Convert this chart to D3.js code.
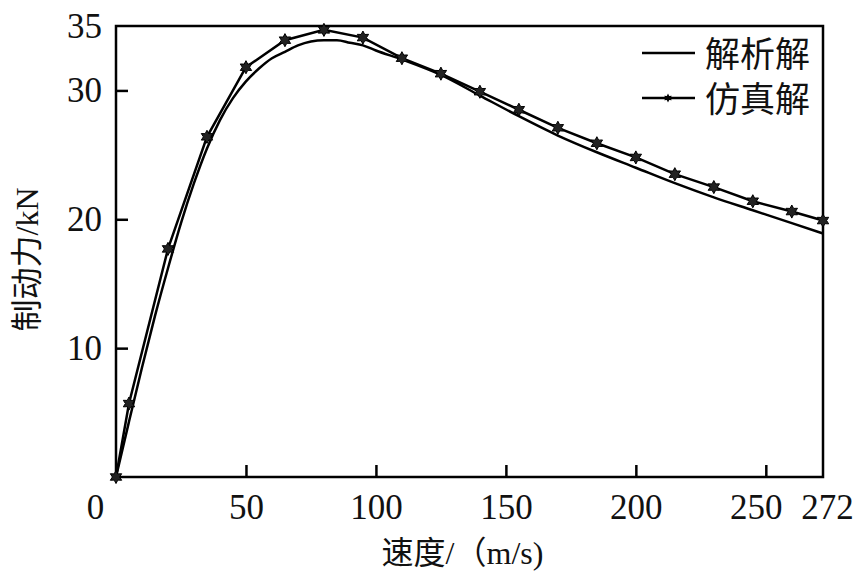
<!DOCTYPE html>
<html>
<head>
<meta charset="utf-8">
<script src="https://cdn.jsdelivr.net/npm/d3@7"></script>
<style>
    html, body { margin: 0; padding: 0; background: #fff; }
    svg { display: block; }
    .num { font-family: "Liberation Serif", "DejaVu Serif", serif; }
    .cjk { font-family: "Liberation Serif", "Noto Sans CJK SC", serif; }
</style>
</head>
<body>
<div id="chart"></div>
<script>
// speed (m/s) vs braking force (kN)
const simSpeed = [0, 5, 20, 35, 50, 65, 80, 95, 110, 125, 140, 155, 170, 185, 200, 215, 230, 245, 260, 272];
const simForce = [0, 5.7, 17.7, 26.4, 31.8, 33.9, 34.7, 34.1, 32.5, 31.3, 29.9, 28.5, 27.1, 25.9, 24.8, 23.5, 22.5, 21.4, 20.6, 19.9];

const anaSpeed = [0, 5, 10, 15, 20, 25, 30, 35, 40, 45, 50, 55, 60, 65, 70, 75, 80, 85, 90, 95, 100,
    110, 125, 140, 155, 170, 185, 200, 215, 230, 245, 260, 272];
const anaForce = [0, 4.3, 8.5, 12.5, 16.2, 19.7, 22.8, 25.5, 27.7, 29.4, 30.7, 31.7, 32.5, 33.0, 33.5, 33.8, 33.9, 33.9, 33.7, 33.5, 33.1,
    32.4, 31.2, 29.6, 28.0, 26.5, 25.2, 24.0, 22.8, 21.7, 20.7, 19.7, 18.9];

const xTicks = [0, 50, 100, 150, 200, 250, 272];
const yTicks = [10, 20, 30, 35];
const legendLabels = ['解析解', '仿真解'];
const xTitle = '速度/（m/s)';
const yTitle = '制动力/kN';

const width = 863;
const height = 578;
const margin = { top: 26, right: 40, bottom: 101, left: 116 };

const svg = d3.select('#chart')
    .append('svg')
    .attr('width', width)
    .attr('height', height);

const x = d3.scaleLinear().domain([0, 272]).range([margin.left, width - margin.right]);
const y = d3.scaleLinear().domain([0, 35]).range([height - margin.bottom, margin.top]);

// six pointed star marker
const hexStar = {
    draw(ctx, size) {
        const r = Math.sqrt(size) / 1.6;
        for (let i = 0; i < 12; i++) {
            const a = i * Math.PI / 6 - Math.PI / 2;
            const rr = i % 2 ? r * 0.55 : r;
            const px = rr * Math.cos(a), py = rr * Math.sin(a);
            if (i === 0) ctx.moveTo(px, py); else ctx.lineTo(px, py);
        }
        ctx.closePath();
    }
};

// x axis, ticks point inward
const labelShift = { 0: -21, 250: -10, 272: 4 };
const xAxis = svg.append('g')
    .attr('transform', `translate(0,${y(0)})`)
    .call(d3.axisBottom(x).tickValues(xTicks).tickSize(-12).tickPadding(17).tickFormat(d3.format('d')));
xAxis.select('.domain').remove();
xAxis.selectAll('.tick line')
    .attr('stroke', '#000').attr('stroke-width', 2.5)
    .attr('display', d => (d === 0 || d === 272) ? 'none' : null);
xAxis.selectAll('.tick text')
    .attr('class', 'num')
    .attr('font-size', 35)
    .attr('fill', '#111')
    .attr('dx', d => labelShift[d] || 0);

const yAxis = svg.append('g')
    .attr('transform', `translate(${x(0)},0)`)
    .call(d3.axisLeft(y).tickValues(yTicks).tickSize(-12).tickPadding(14).tickFormat(d3.format('d')));
yAxis.select('.domain').remove();
yAxis.selectAll('.tick line')
    .attr('stroke', '#000').attr('stroke-width', 2.5)
    .attr('display', d => d === 35 ? 'none' : null);
yAxis.selectAll('.tick text')
    .attr('class', 'num')
    .attr('font-size', 35)
    .attr('fill', '#111');

// frame
svg.append('rect')
    .attr('x', x(0))
    .attr('y', y(35))
    .attr('width', x(272) - x(0))
    .attr('height', y(0) - y(35))
    .attr('fill', 'none')
    .attr('stroke', '#000')
    .attr('stroke-width', 2.5);

// analytic curve
const anaLine = d3.line()
    .x((d, i) => x(anaSpeed[i]))
    .y(d => y(d))
    .curve(d3.curveMonotoneX);

svg.append('path')
    .datum(anaForce)
    .attr('d', anaLine)
    .attr('fill', 'none')
    .attr('stroke', '#000')
    .attr('stroke-width', 2.5);

// simulation curve
const simLine = d3.line()
    .x((d, i) => x(simSpeed[i]))
    .y(d => y(d));

svg.append('path')
    .datum(simForce)
    .attr('d', simLine)
    .attr('fill', 'none')
    .attr('stroke', '#000')
    .attr('stroke-width', 2.5);

const star = d3.symbol().type(hexStar).size(110);
svg.append('g')
    .selectAll('path')
    .data(simForce)
    .enter()
    .append('path')
    .attr('transform', (d, i) => `translate(${x(simSpeed[i])},${y(d)})`)
    .attr('d', star)
    .attr('fill', '#222')
    .attr('stroke', '#000')
    .attr('stroke-width', 1);

// legend
const legend = svg.append('g');
const legendY = [53, 98];
legendLabels.forEach((label, i) => {
    legend.append('line')
        .attr('x1', 642).attr('x2', 695)
        .attr('y1', legendY[i]).attr('y2', legendY[i])
        .attr('stroke', '#000').attr('stroke-width', 2.5);
    legend.append('text')
        .attr('class', 'cjk')
        .attr('x', 705)
        .attr('y', legendY[i] + 2)
        .attr('dy', '0.35em')
        .attr('font-size', 35)
        .attr('fill', '#111')
        .text(label);
});
legend.append('path')
    .attr('transform', `translate(668,${legendY[1]})`)
    .attr('d', d3.symbol().type(hexStar).size(50))
    .attr('fill', '#000');

// axis titles
svg.append('text')
    .attr('class', 'cjk')
    .attr('x', (x(0) + x(272)) / 2 - 7)
    .attr('y', 553)
    .attr('dy', '0.35em')
    .attr('text-anchor', 'middle')
    .attr('font-size', 32)
    .attr('fill', '#111')
    .text(xTitle);

svg.append('text')
    .attr('class', 'cjk')
    .attr('transform', `translate(27,${(y(0) + y(35)) / 2 + 8}) rotate(-90)`)
    .attr('dy', '0.35em')
    .attr('text-anchor', 'middle')
    .attr('font-size', 32)
    .attr('fill', '#111')
    .text(yTitle);
</script>
</body>
</html>
